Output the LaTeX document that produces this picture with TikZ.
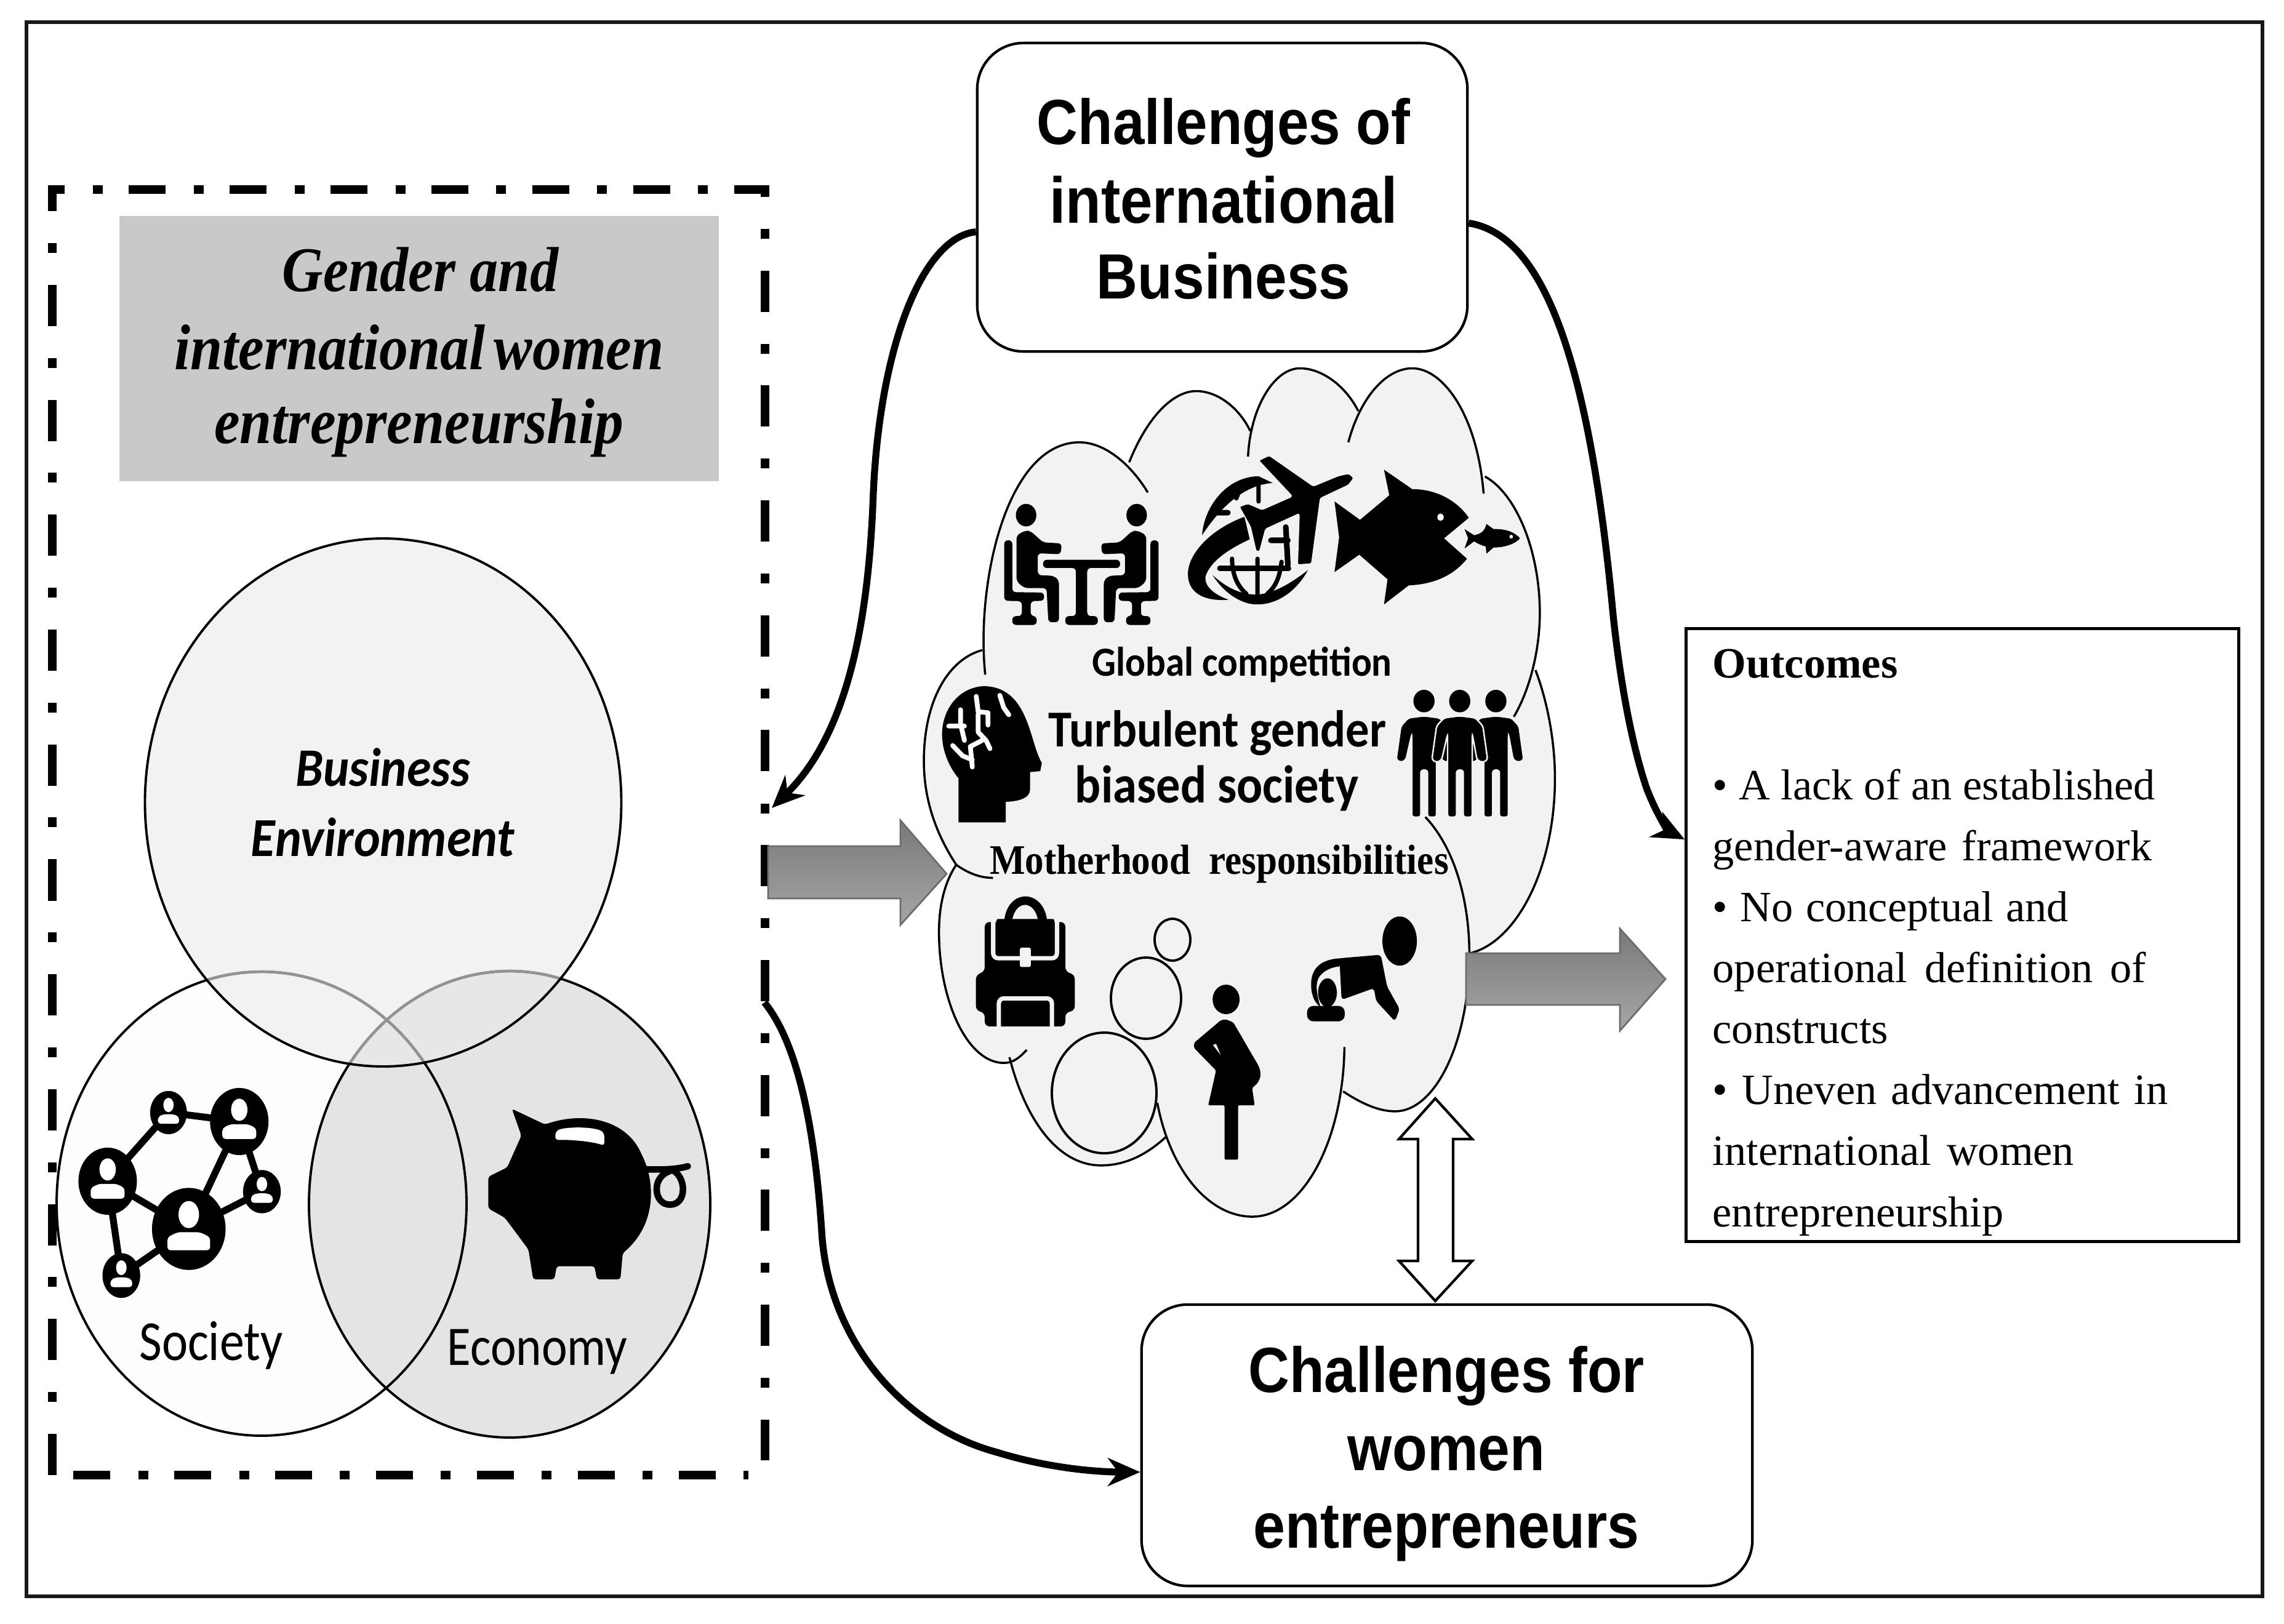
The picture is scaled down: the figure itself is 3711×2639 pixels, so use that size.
\documentclass[tikz,border=0pt]{standalone}
\usepackage{fontspec}
\usepackage{graphicx}
\setmainfont{Liberation Serif}
\newfontfamily\arialf{Liberation Sans}
\newfontfamily\calibf{Carlito}
\usetikzlibrary{arrows.meta,calc}
\definecolor{cloudfill}{HTML}{F2F2F2}
\definecolor{titlegray}{HTML}{C9C9C9}
\definecolor{econfill}{HTML}{E4E4E4}
\definecolor{socfill}{HTML}{FDFDFD}
\newlength\pxu \setlength\pxu{0.28453pt}
\newcommand\fit[3]{\scalebox{1}[#2]{\resizebox{#1\pxu}{!}{#3}}}
\newcommand\lw[2]{\makebox[#1\pxu][s]{#2}}
\newcommand\sitter{%
    \fill (117,412) ellipse [x radius=29,y radius=55];
    \fill[ico,rounded corners=0.6mm] (115,487) -- (90,510) -- (90,735) -- (112,768) -- (175,768) -- (180,935) -- (210,935) -- (210,730) -- (195,708) -- (150,705) -- (150,598) -- (215,603) -- (218,550) -- (165,545) -- (130,490) -- cycle;
    \fill[ico,rounded corners=0.6mm] (55,535) -- (78,535) -- (78,788) -- (168,790) -- (168,830) -- (130,832) -- (130,905) -- (147,905) -- (147,948) -- (78,948) -- (78,905) -- (105,905) -- (105,832) -- (55,830) -- cycle;
}
\tikzset{
  x=0.01cm,y=-0.01cm,
  roundbox/.style={draw=black,line width=1.2pt,fill=white,rounded corners=0.75cm,inner sep=0pt},
  conn/.style={line width=3.2pt,draw=black,-{Stealth[length=15pt,width=13pt]}},
  lbl/.style={inner sep=0pt,anchor=base,text=black},
  grayarrow/.style={draw=gray!85!black,line width=0.8pt,top color=gray!95!black,bottom color=gray!70},
  frameseg/.style={line width=4.2pt,line cap=butt,draw=black},
  lobe/.style={draw=black,line width=1pt},
  bubble/.style={draw=black,fill=cloudfill,line width=1.1pt},
  ico/.style={fill=black,draw=none},
  icoline/.style={draw=black,line cap=round,line join=round},
  cut/.style={draw=white,line cap=round,line join=round}
}
\begin{document}
\begin{tikzpicture}
\useasboundingbox (0,0) rectangle (3711,2639);
% outer frame
\draw[line width=1.5pt,draw=black!90] (43,36) rectangle (3676,2594);

% dash-dot frame
\draw[frameseg,dash pattern=on 17.07pt off 13pt on 4.55pt off 12pt,dash phase=9.4pt] (78,308) -- (1250,308);
\draw[frameseg,dash pattern=on 17.07pt off 13pt on 4.55pt off 12pt,dash phase=37pt] (85,2397) -- (1216,2397);
\draw[frameseg,dash pattern=on 19.06pt off 14.8pt on 4.55pt off 14.68pt] (85,2397) -- (85,301);
\draw[frameseg,dash pattern=on 19.06pt off 14.8pt on 4.55pt off 14.68pt,dash phase=15.65pt] (1243,308) -- (1243,2373);

% title box
\node[fill=titlegray,minimum width=9.74cm,minimum height=4.31cm,inner sep=0pt] (titlebox) at (681,566.5) {};
\node[lbl] (t1) at (683,473) {\fit{448}{1.12}{\bfseries\itshape Gender and}};
\node[lbl] (t2) at (681,600) {\fit{795}{1.12}{\bfseries\itshape international\kern-0.1em\ women}};
\node[lbl] (t3) at (681,720) {\fit{665}{1.12}{\bfseries\itshape entrepreneurship}};

% Venn
\fill[socfill] (425,1956) ellipse [x radius=333,y radius=377];
\fill[econfill] (828,1957) ellipse [x radius=326,y radius=379];
\fill[cloudfill] (622.5,1304) ellipse [x radius=387,y radius=429];
\begin{scope}
  \clip (622.5,1304) ellipse [x radius=387,y radius=429];
  \fill[econfill!90!white] (828,1957) ellipse [x radius=326,y radius=379];
\end{scope}
\draw[line width=1.1pt] (425,1956) ellipse [x radius=333,y radius=377];
\draw[line width=1.1pt] (828,1957) ellipse [x radius=326,y radius=379];
\begin{scope}
  \clip (622.5,1304) ellipse [x radius=387,y radius=429];
  \draw[line width=1.3pt,draw=gray!85] (425,1956) ellipse [x radius=333,y radius=377];
  \draw[line width=1.3pt,draw=gray!85] (828,1957) ellipse [x radius=326,y radius=379];
\end{scope}
\draw[line width=1.1pt] (622.5,1304) ellipse [x radius=387,y radius=429];
\node[lbl] (be1) at (622,1277) {\fit{283}{1.1}{\calibf\bfseries\itshape Business}};
\node[lbl] (be2) at (622,1391) {\fit{428}{1.1}{\calibf\bfseries\itshape Environment}};
\node[lbl] (soc) at (343,2210) {\fit{233}{1.15}{\calibf Society}};
\node[lbl] (eco) at (873,2218) {\fit{292}{1.15}{\calibf Economy}};

% network + piggy
\begin{scope}[shift={(50,1500)},x=0.007653cm,y=-0.006059cm]
  \draw[icoline,line width=3.2pt]
    (292,508) -- (442,532) -- (335,820) -- (490,720) -- (442,532)
    (292,508) -- (163,692) -- (335,820) -- (192,945) -- (163,692);
  \foreach \cx/\cy/\rx/\ry in {335/820/78/110,163/692/62/90,442/532/62/90,292/508/39/58,490/720/40/58,192/945/40/60}{
    \fill (\cx,\cy) ellipse [x radius=\rx,y radius=\ry];
    \fill[white] ({\cx},{\cy-.35*\ry}) ellipse [x radius={.28*\rx},y radius={.33*\ry}];
    \fill[white,rounded corners=0.5mm] ({\cx-.58*\rx},{\cy+.52*\ry}) -- ({\cx-.58*\rx},{\cy+.2*\ry}) -- ({\cx-.3*\rx},{\cy+.08*\ry}) -- ({\cx+.3*\rx},{\cy+.08*\ry}) -- ({\cx+.58*\rx},{\cy+.2*\ry}) -- ({\cx+.58*\rx},{\cy+.52*\ry}) -- cycle;
  }
  % piggy
  \fill[ico,rounded corners=0.4mm] (1020,498) -- (1090,540) .. controls (1170,505) and (1260,525) .. (1295,620) .. controls (1325,700) and (1325,810) .. (1255,885) -- (1250,955) -- (1200,955) -- (1195,920) -- (1115,920) -- (1110,955) -- (1065,955) -- (1055,875) -- (1005,790) -- (970,765) -- (970,680) -- (1010,655) -- (1040,570) -- cycle;
  \fill[white,rounded corners=0.5mm] (1112,582) -- (1112,560) .. controls (1130,545) and (1200,545) .. (1216,565) -- (1216,597) .. controls (1190,585) and (1140,580) .. (1112,582) -- cycle;
  \draw[icoline,line width=3pt] (1300,660) .. controls (1340,662) and (1370,660) .. (1393,652);
  \draw[icoline,line width=3pt] (1355,665) .. controls (1315,680) and (1320,755) .. (1355,755) .. controls (1392,755) and (1390,680) .. (1360,662);
\end{scope}

% white double arrow
\draw[line width=1.2pt,fill=white,miter limit=10] (2332,1785) -- (2392,1851) -- (2361,1851) -- (2361,2049) -- (2392,2049) -- (2332,2114) -- (2273,2049) -- (2304,2049) -- (2304,1851) -- (2273,1851) -- cycle;

% cloud
\begin{scope}[shift={(1480,580)},x=0.007015cm,y=-0.009247cm]
  \fill[cloudfill] (172,558) .. controls (150,400) and (220,150) .. (390,150) .. controls (450,150) and (510,190) .. (548,238)
   -- (505,185) .. controls (550,100) and (610,60) .. (660,60) .. controls (710,60) and (760,90) .. (785,130)
   -- (780,175) .. controls (785,90) and (840,20) .. (900,20) .. controls (950,20) and (1005,50) .. (1035,95)
   -- (1012,150) .. controls (1040,70) and (1100,20) .. (1160,20) .. controls (1230,20) and (1310,100) .. (1325,240)
   -- (1328,210) .. controls (1400,240) and (1455,340) .. (1455,450) .. controls (1455,510) and (1435,580) .. (1395,632)
   -- (1445,550) .. controls (1475,610) and (1490,680) .. (1490,740) .. controls (1490,900) and (1400,1030) .. (1290,1048)
   -- (1292,1050) .. controls (1292,1200) and (1215,1325) .. (1120,1325) .. controls (1075,1325) and (1030,1305) .. (1000,1290)
   -- (1003,1212) .. controls (1000,1380) and (905,1510) .. (790,1510) .. controls (690,1510) and (600,1430) .. (570,1310)
   -- (590,1370) .. controls (540,1405) and (490,1420) .. (440,1420) .. controls (340,1420) and (265,1340) .. (228,1230)
   -- (215,1240) .. controls (130,1240) and (65,1130) .. (65,1010) .. controls (65,960) and (80,920) .. (105,892)
   .. controls (60,840) and (30,780) .. (30,710) .. controls (30,600) and (90,530) .. (165,515) -- cycle;
  \fill[cloudfill] (750,720) ellipse [x radius=560,y radius=560];
  \draw[lobe] (172,558) .. controls (150,400) and (220,150) .. (390,150) .. controls (450,150) and (510,190) .. (548,238);
  \draw[lobe] (505,185) .. controls (550,100) and (610,60) .. (660,60) .. controls (710,60) and (760,90) .. (785,130);
  \draw[lobe] (780,175) .. controls (785,90) and (840,20) .. (900,20) .. controls (950,20) and (1005,50) .. (1035,95);
  \draw[lobe] (1012,150) .. controls (1040,70) and (1100,20) .. (1160,20) .. controls (1230,20) and (1310,100) .. (1325,240);
  \draw[lobe] (1328,210) .. controls (1400,240) and (1455,340) .. (1455,450) .. controls (1455,510) and (1435,580) .. (1395,632);
  \draw[lobe] (1445,550) .. controls (1475,610) and (1490,680) .. (1490,740) .. controls (1490,900) and (1400,1030) .. (1290,1048);
  \draw[lobe] (1190,808) .. controls (1255,860) and (1292,950) .. (1292,1050) .. controls (1292,1200) and (1215,1325) .. (1120,1325) .. controls (1075,1325) and (1030,1305) .. (1000,1290);
  \draw[lobe] (1003,1212) .. controls (1000,1380) and (905,1510) .. (790,1510) .. controls (690,1510) and (600,1430) .. (570,1310);
  \draw[lobe] (590,1370) .. controls (540,1405) and (490,1420) .. (440,1420) .. controls (340,1420) and (265,1340) .. (228,1230);
  \draw[lobe] (268,1217) .. controls (250,1232) and (235,1240) .. (215,1240) .. controls (130,1240) and (65,1130) .. (65,1010) .. controls (65,960) and (80,920) .. (105,892);
  \draw[lobe] (190,915) .. controls (150,915) and (120,900) .. (105,892) .. controls (60,840) and (30,780) .. (30,710) .. controls (30,600) and (90,530) .. (165,515);
\end{scope}
% thought bubbles
\draw[bubble] (1905,1527) ellipse [x radius=29,y radius=34];
\draw[bubble] (1862,1622) ellipse [x radius=57,y radius=66];
\draw[bubble] (1794,1776) ellipse [x radius=85,y radius=98];

% meeting, plane, fish
\begin{scope}[shift={(1600,700)},x=0.00574cm,y=-0.003333cm]
  \sitter
  \begin{scope}[shift={(547,0)},xscale=-1]
  \sitter
  \end{scope}
  \fill[ico,rounded corners=0.6mm] (165,630) -- (383,630) -- (383,670) -- (290,670) -- (290,905) -- (320,905) -- (320,948) -- (228,948) -- (228,905) -- (258,905) -- (258,670) -- (165,670) -- cycle;
  % globe
  \fill[ico] (615,510) .. controls (620,380) and (680,225) .. (775,222) -- (815,255) .. controls (730,265) and (665,380) .. (615,510) -- cycle;
  \fill[ico] (735,420) .. controls (640,480) and (575,600) .. (575,700) .. controls (575,790) and (620,835) .. (690,825) .. controls (650,800) and (620,760) .. (625,710) .. controls (640,630) and (700,570) .. (750,530) -- cycle;
  \fill[ico] (645,705) .. controls (680,800) and (730,848) .. (770,848) .. controls (840,848) and (890,760) .. (915,680) .. controls (870,740) and (820,795) .. (770,800) .. controls (720,800) and (680,760) .. (645,705) -- cycle;
  \draw[icoline,line width=2.4pt] (665,672) -- (860,672);
  \draw[icoline,line width=2pt] (772,625) -- (772,800) (700,625) .. controls (700,700) and (715,760) .. (740,795) (840,640) .. controls (835,710) and (825,760) .. (800,795) (775,270) -- (775,345) (720,295) -- (712,330);
  \draw[icoline,line width=2.6pt] (645,400) -- (688,400) (852,470) -- (858,655) (810,535) -- (858,535);
  % plane
  \draw[fill=black,line width=0.5pt,draw=cloudfill,rounded corners=0.3mm] (1030,208) -- (1045,230) -- (1030,265) -- (950,330) -- (925,650) -- (885,655) -- (890,405) -- (795,480) -- (778,590) -- (768,590) -- (752,470) -- (720,370) -- (745,355) -- (785,385) -- (870,320) -- (775,145) -- (805,120) -- (930,270) -- (1000,220) -- cycle;
  % fish
  \fill[ico] (990,345) -- (1062,435) -- (1145,315) -- (1130,190) -- (1210,285) .. controls (1290,285) and (1345,360) .. (1370,425) -- (1300,525) -- (1365,625) .. controls (1320,720) and (1260,750) .. (1200,755) -- (1130,848) -- (1140,725) -- (1060,605) -- (990,690) -- (1003,520) -- cycle;
  \fill[white] (1290,422) ellipse [x radius=9,y radius=18];
  \fill[ico] (1358,480) -- (1385,510) .. controls (1400,505) and (1415,495) .. (1420,455) -- (1440,480) .. controls (1475,478) and (1500,495) .. (1515,525) .. controls (1500,555) and (1470,570) .. (1440,570) -- (1420,600) -- (1418,565) .. controls (1405,560) and (1395,550) .. (1385,540) -- (1358,575) -- (1368,525) -- cycle;
  \fill[white] (1490,517) ellipse [x radius=5,y radius=9];
\end{scope}

% head and people
\begin{scope}[shift={(1500,1080)},x=0.006378cm,y=-0.003333cm]
  \fill[ico] (90,770) -- (210,770) -- (210,670) .. controls (245,668) and (272,650) .. (272,610) -- (272,525) -- (298,520) -- (302,480) .. controls (270,380) and (270,110) .. (155,105) .. controls (90,110) and (48,220) .. (48,340) .. controls (48,430) and (70,510) .. (90,555) -- cycle;
  \draw[cut,line width=2.2pt] (135,155) -- (140,230) -- (165,235) -- (165,295) (140,240) -- (140,330) -- (160,370) -- (170,410) (65,300) -- (105,300) (95,220) -- (95,290) -- (105,370) (150,370) -- (120,400) -- (125,500) (75,395) -- (100,445) -- (125,465) (195,150) -- (205,210) -- (218,245);
  \foreach \manx in {1275,1458,1366}{
   \begin{scope}[shift={(\manx,0)}]
    \fill (0,178) ellipse [x radius=27,y radius=55];
    \draw[draw=cloudfill,fill=black,line width=0.7pt,rounded corners=0.4mm] (0,250) -- (40,260) -- (59,300) -- (71,465) -- (58,478) -- (44,465) -- (32,340) -- (32,745) -- (9,745) -- (9,515) -- (-8,515) -- (-8,745) -- (-31,745) -- (-31,340) -- (-46,465) -- (-58,478) -- (-71,465) -- (-59,300) -- (-40,260) -- cycle;
   \end{scope}
  }
\end{scope}

% backpack, woman, baby
\begin{scope}[shift={(1550,1440)},x=0.005102cm,y=-0.003333cm]
  \fill[ico] (160,170) .. controls (170,10) and (285,10) .. (297,170) -- (268,170) .. controls (258,65) and (195,65) .. (185,170) -- cycle;
  \fill[ico,rounded corners=0.8mm] (98,175) -- (355,175) -- (355,420) -- (385,430) -- (385,610) -- (355,615) -- (355,685) -- (98,685) -- (98,615) -- (70,610) -- (70,430) -- (98,420) -- cycle;
  \fill[ico,rounded corners=0.3mm] (135,160) rectangle (320,300);
  \draw[draw=cloudfill,line width=2pt,rounded corners=0.8mm] (125,170) -- (125,352) -- (328,352) -- (328,170);
  \draw[draw=cloudfill,line width=2pt,rounded corners=0.8mm] (143,690) -- (143,548) -- (312,548) -- (312,690);
  \fill[cloudfill,rounded corners=0.3mm] (210,300) rectangle (245,395);
  % woman
  \fill (867,553) ellipse [x radius=43,y radius=72];
  \fill[ico,rounded corners=0.2mm] (865,650) -- (890,665) -- (960,850) .. controls (985,910) and (980,950) .. (950,985) -- (958,1070) -- (905,1070) -- (905,1335) -- (862,1335) -- (862,1070) -- (810,1070) -- (835,900) -- (765,790) -- (765,765) -- (850,655) -- cycle;
  \fill[cloudfill] (825,775) -- (835,770) -- (850,825) -- cycle;
  % baby
  \fill (1420,268) ellipse [x radius=55,y radius=120];
  \fill[ico,rounded corners=0.5mm] (1228,352) -- (1360,335) -- (1380,490) -- (1420,600) -- (1405,660) -- (1345,560) -- (1338,498) -- (1235,555) -- cycle;
  \fill[ico] (1235,352) .. controls (1170,355) and (1135,400) .. (1138,490) .. controls (1140,540) and (1150,570) .. (1168,590) .. controls (1155,530) and (1150,470) .. (1165,440) .. controls (1180,410) and (1205,395) .. (1228,392) -- cycle;
  \fill (1190,520) ellipse [x radius=30,y radius=70];
  \fill[ico,rounded corners=1mm] (1125,585) -- (1245,585) -- (1245,660) -- (1125,660) -- cycle;
\end{scope}

% cloud labels
\node[lbl] (gc) at (2018,1098) {\fit{487}{1.1}{\calibf\bfseries Global competition}};
\node[lbl] (tg) at (1978,1213) {\fit{548}{1.1}{\calibf\bfseries Turbulent gender}};
\node[lbl] (bs) at (1977,1304) {\fit{460}{1.1}{\calibf\bfseries biased society}};
\node[lbl] (mr) at (1981,1420) {\fit{745}{1.12}{\bfseries Motherhood\ \ responsibilities}};

% gray block arrows
\path[grayarrow] (1248,1375) -- (1463,1375) -- (1463,1333) -- (1538,1420) -- (1463,1503) -- (1463,1460) -- (1248,1460) -- cycle;
\path[grayarrow] (2382,1549) -- (2632,1549) -- (2632,1509) -- (2706,1591) -- (2632,1675) -- (2632,1633) -- (2382,1633) -- cycle;

% rounded boxes
\node[roundbox,minimum width=7.96cm,minimum height=5.01cm] (topbox) at (1986,320.5) {};
\node[lbl] (tb1) at (1988,234) {\fit{606}{1.12}{\arialf\bfseries Challenges of}};
\node[lbl] (tb2) at (1988,362) {\fit{565}{1.12}{\arialf\bfseries international}};
\node[lbl] (tb3) at (1988,485) {\fit{412}{1.12}{\arialf\bfseries Business}};

\node[roundbox,minimum width=9.92cm,minimum height=4.57cm] (botbox) at (2351,2348.5) {};
\node[lbl] (bb1) at (2350,2262) {\fit{643}{1.12}{\arialf\bfseries Challenges for}};
\node[lbl] (bb2) at (2350,2389) {\fit{320}{1.12}{\arialf\bfseries women}};
\node[lbl] (bb3) at (2350,2515) {\fit{627}{1.12}{\arialf\bfseries entrepreneurs}};

% outcomes
\node[draw=black,line width=1.4pt,fill=white,minimum width=8.97cm,minimum height=9.95cm,inner sep=0pt] (outbox) at (3188.5,1519.5) {};
\node[anchor=base west,inner sep=0pt,align=left,font=\fontsize{20}{28.17}\selectfont] (outtext) at (2782,1993) {{\bfseries Outcomes}\\[28.17pt]
\lw{719}{• A lack of an established}\\
\lw{713}{gender-aware framework}\\
\lw{578}{• No conceptual and}\\
\lw{704}{operational definition of}\\
constructs\\
\lw{739}{• Uneven advancement in}\\
\lw{587}{international women}\\
entrepreneurship};

% connectors
\coordinate (frameL) at (1254,1313);
\coordinate (frameB) at (1242,1629);
\draw[conn] (topbox.188) .. controls (1500,385) and (1430,560) .. (1419,800) .. controls (1412,1000) and (1380,1190) .. (frameL);
\draw[conn] (topbox.-6) .. controls (2500,380) and (2580,560) .. (2621,1000) .. controls (2635,1130) and (2655,1220) .. (2675,1280) .. controls (2690,1320) and (2710,1350) .. (outbox.161.4);
\draw[conn] (frameB) .. controls (1300,1700) and (1325,1850) .. (1335,2000) .. controls (1345,2180) and (1470,2320) .. (1620,2360) .. controls (1700,2385) and (1780,2392) .. (botbox.185.8);
\end{tikzpicture}
\end{document}
